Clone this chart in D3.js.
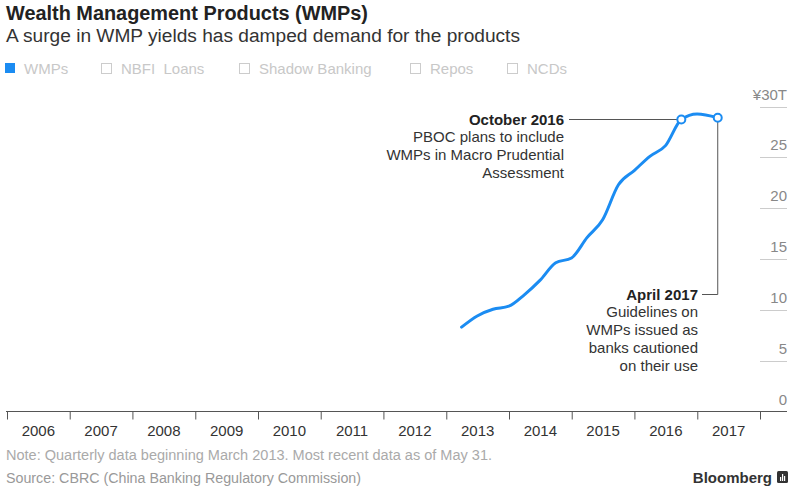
<!DOCTYPE html>
<html><head><meta charset="utf-8">
<script src="https://cdn.jsdelivr.net/npm/d3@7"></script>
<style>
body{margin:0;background:#fff;}
svg{display:block;font-family:"Liberation Sans",Arial,sans-serif;}
</style></head>
<body><svg id="c" width="800" height="492"></svg>
<script>
const dates = ["2013-03-31","2013-06-30","2013-09-30","2013-12-31","2014-03-31","2014-06-30","2014-09-30","2014-12-31","2015-03-31","2015-06-30","2015-09-30","2015-12-31","2016-03-31","2016-06-30","2016-09-30","2016-12-31","2017-04-30"];
const wmpValues = [8.3,9.4,10.06,10.36,11.48,12.9,14.63,15.1,17.1,18.86,22.3,23.7,25.1,26.15,28.72,29.26,28.89];
const yearLabels = ["2006","2007","2008","2009","2010","2011","2012","2013","2014","2015","2016","2017"];
const yTicks = [0,5,10,15,20,25,30];
const legendItems = ["WMPs","NBFI  Loans","Shadow Banking","Repos","NCDs"];
const annotations = [
  {date:"2016-09-30", value:28.72, head:"October 2016", body:["PBOC plans to include","WMPs in Macro Prudential","Assessment"]},
  {date:"2017-04-30", value:28.89, head:"April 2017", body:["Guidelines on","WMPs issued as","banks cautioned","on their use"]}
];

const svg = d3.select("#c");
const parse = d3.timeParse("%Y-%m-%d");
const data = dates.map((d,i)=>({date:parse(d), value:wmpValues[i]}));

const x = d3.scaleTime().domain([parse("2006-01-01"), parse("2018-01-01")]).range([7, 760]);
const y = d3.scaleLinear().domain([0,30]).range([411.5, 106.5]);

// Title
svg.append("text").attr("x",6).attr("y",20).attr("font-size",19.5).attr("font-weight","bold").attr("fill","#222")
  .attr("textLength",362).attr("lengthAdjust","spacingAndGlyphs")
  .text("Wealth Management Products (WMPs)");
svg.append("text").attr("x",6).attr("y",42).attr("font-size",18).attr("fill","#333")
  .attr("textLength",514).attr("lengthAdjust","spacingAndGlyphs")
  .text("A surge in WMP yields has damped demand for the products");

// Legend
const legX = [5, 101, 239, 410, 507];
legendItems.forEach((t,i)=>{
  const g = svg.append("g").attr("transform",`translate(${legX[i]},63)`);
  if(i===0){
    g.append("rect").attr("x",0).attr("y",0).attr("width",10).attr("height",10).attr("fill","#1b8cf2");
  } else {
    g.append("rect").attr("x",0.5).attr("y",0.5).attr("width",10).attr("height",10).attr("fill","none").attr("stroke","#ccc").attr("stroke-width",1);
  }
  g.append("text").attr("x",i===0?19:20).attr("y",10.5).attr("font-size",15).attr("fill","#c8c8c8").style("white-space","pre").text(t);
});

// Y gridlines + labels
yTicks.forEach(v=>{
  if(v>0) svg.append("line").attr("x1",760).attr("x2",787).attr("y1",Math.round(y(v))+0.5).attr("y2",Math.round(y(v))+0.5)
    .attr("stroke","#ccc").attr("stroke-width",1);
  svg.append("text").attr("x",787).attr("y",y(v)-7).attr("text-anchor","end").attr("font-size",15).attr("fill","#888")
    .text(v===30?"¥30T":v);
});

// X axis
const xAxis = d3.axisBottom(x).ticks(d3.timeYear.every(1)).tickSize(8).tickFormat("");
const gx = svg.append("g").attr("transform",`translate(0,${411.5})`).call(xAxis);
gx.select(".domain").remove();
gx.selectAll(".tick line").attr("stroke","#555");
svg.append("line").attr("x1",6).attr("x2",787).attr("y1",411.5).attr("y2",411.5).attr("stroke","#555");
yearLabels.forEach(yr=>{
  const a = x(parse(yr+"-01-01")), b = x(parse((+yr+1)+"-01-01"));
  svg.append("text").attr("x",(a+b)/2).attr("y",436).attr("text-anchor","middle").attr("font-size",15).attr("fill","#333").text(yr);
});

// Line
const line = d3.line().x(d=>x(d.date)).y(d=>y(d.value)).curve(d3.curveMonotoneX);
svg.append("path").datum(data).attr("d",line).attr("fill","none").attr("stroke","#1b8cf2").attr("stroke-width",3).attr("stroke-linecap","round");

// Annotations
const a1 = annotations[0], a2 = annotations[1];
const p1 = [x(parse(a1.date)), y(a1.value)];
const p2 = [x(parse(a2.date)), y(a2.value)];
svg.append("line").attr("x1",569).attr("x2",p1[0]).attr("y1",119.5).attr("y2",119.5).attr("stroke","#555").attr("stroke-width",1);
svg.append("polyline").attr("points",`${p2[0]},${p2[1]} ${p2[0]},294.5 ${702},294.5`).attr("fill","none").attr("stroke","#555").attr("stroke-width",1);

function annText(xr, y0, ann){
  svg.append("text").attr("x",xr).attr("y",y0).attr("text-anchor","end").attr("font-size",15).attr("font-weight","bold").attr("fill","#222").text(ann.head);
  ann.body.forEach((t,i)=>{
    svg.append("text").attr("x",xr).attr("y",y0+17.8*(i+1)).attr("text-anchor","end").attr("font-size",15).attr("fill","#333").text(t);
  });
}
annText(564, 124.5, a1);
annText(698, 299.5, a2);

[p1,p2].forEach(p=>{
  svg.append("circle").attr("cx",p[0]).attr("cy",p[1]).attr("r",4).attr("fill","#fff").attr("stroke","#1b8cf2").attr("stroke-width",2);
});

// Footer
svg.append("text").attr("x",6).attr("y",460).attr("font-size",14).attr("fill","#aaa")
  .attr("textLength",486).attr("lengthAdjust","spacingAndGlyphs")
  .text("Note: Quarterly data beginning March 2013. Most recent data as of May 31.");
svg.append("text").attr("x",6).attr("y",483).attr("font-size",14).attr("fill","#999")
  .attr("textLength",355).attr("lengthAdjust","spacingAndGlyphs")
  .text("Source: CBRC (China Banking Regulatory Commission)");
svg.append("text").attr("x",772).attr("y",483).attr("text-anchor","end").attr("font-size",15).attr("font-weight","bold").attr("fill","#333")
  .text("Bloomberg");
const lg = svg.append("g").attr("transform","translate(777,471)");
lg.append("rect").attr("width",11).attr("height",12).attr("rx",1.5).attr("fill","#333");
[[3,6,1.2,4],[5,3,1.2,7],[7,5,1.2,5]].forEach(r=>lg.append("rect").attr("x",r[0]).attr("y",r[1]).attr("width",r[2]).attr("height",r[3]).attr("fill","#fff"));
</script></body></html>
